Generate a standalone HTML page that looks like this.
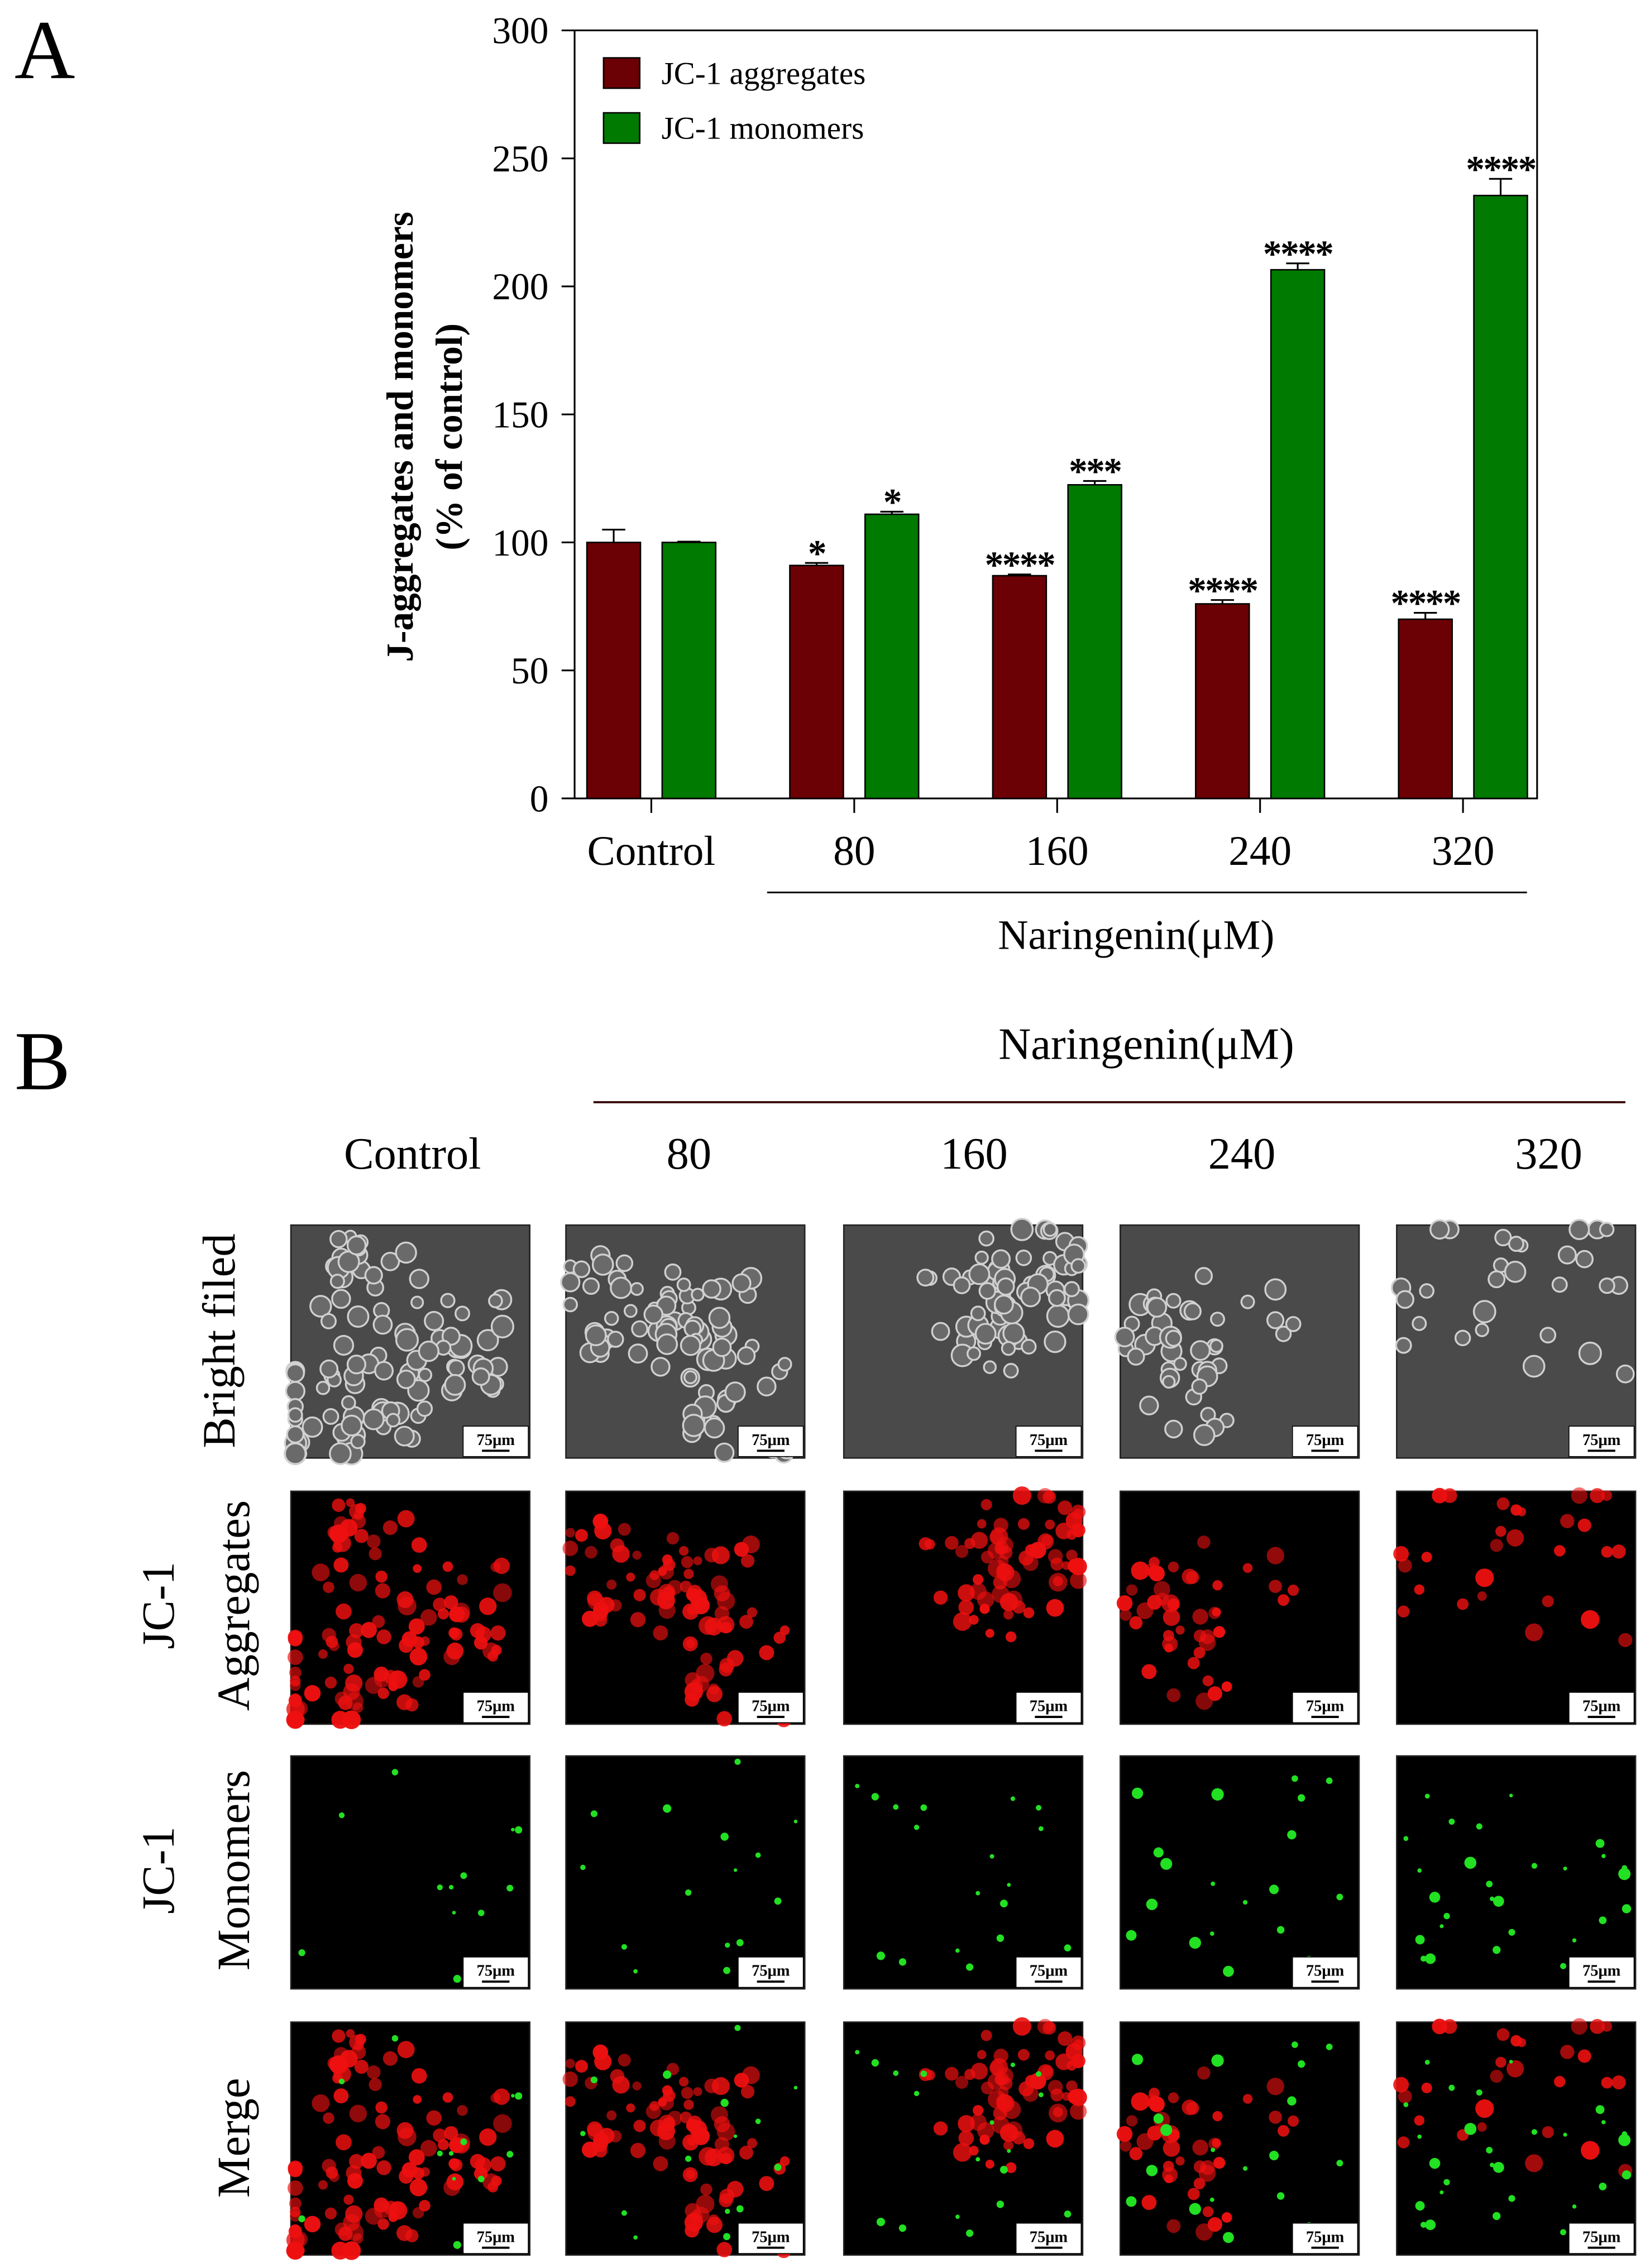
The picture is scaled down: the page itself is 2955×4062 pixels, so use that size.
<!DOCTYPE html>
<html><head><meta charset="utf-8"><style>
html,body{margin:0;padding:0;background:#fff;}
svg{display:block;}
text{font-family:"Liberation Serif","DejaVu Serif",serif;}
</style></head><body>
<svg id="root" width="2955" height="4062" viewBox="0 0 1140 1568" preserveAspectRatio="none" xmlns="http://www.w3.org/2000/svg">
<text x="10" y="54" font-size="58">A</text>
<g id="chart"></g>
<text x="10" y="753" font-size="58">B</text>
<g id="micro"></g>
</svg>
<script>
const categories=["Control","80","160","240","320"];
const aggValues=[100,91,87,76,70];
const aggErrors=[5,1,0.5,1.5,2.5];
const monValues=[100,111,122.5,206.5,235.5];
const monErrors=[0.3,1,1.5,2.5,6.5];
const aggStars=["","*","****","****","****"];
const monStars=["","*","***","****","****"];
const yTicks=[0,50,100,150,200,250,300];

const NS="http://www.w3.org/2000/svg";
function mk(tag,attrs,parent,txt){const e=document.createElementNS(NS,tag);for(const k in attrs)e.setAttribute(k,attrs[k]);if(txt!==undefined)e.textContent=txt;parent.appendChild(e);return e;}
const chart=document.getElementById('chart');
const L=397,R=1062,T=21,B=552;
const y=v=>B-(v/300)*(B-T);
const xc=i=>450+i*140.2;
const bw=37;
let e;
e=mk('rect',{x:L,y:T,width:R-L,height:B-T,fill:'none',stroke:'#000','stroke-width':1.2},chart);

yTicks.forEach(t=>{
 e=mk('line',{x1:L-9,x2:L,y1:y(t),y2:y(t),stroke:'#000','stroke-width':1.2},chart);
 
 e=mk('text',{x:379,y:y(t)+9,'font-size':26,'text-anchor':'end'},chart,String(t));
 
});
categories.forEach((c,i)=>{
 e=mk('line',{x1:xc(i),x2:xc(i),y1:B,y2:B+10,stroke:'#000','stroke-width':1.2},chart);
 
 e=mk('text',{x:xc(i),y:598,'font-size':29,'text-anchor':'middle'},chart,c);
 
 const series=[[aggValues,aggErrors,aggStars,'#6b0005',-26,'bar-aggregates'],[monValues,monErrors,monStars,'#007a00',26,'bar-monomers']];
 series.forEach(([vals,errs,stars,col,off,nm])=>{
  const cx=xc(i)+off, v=vals[i];
  e=mk('line',{x1:cx,x2:cx,y1:y(v),y2:y(v+errs[i]),stroke:'#000','stroke-width':1.2},chart);
  
  e=mk('line',{x1:cx-8,x2:cx+8,y1:y(v+errs[i]),y2:y(v+errs[i]),stroke:'#000','stroke-width':1.2},chart);
  
  e=mk('rect',{x:cx-bw/2,y:y(v),width:bw,height:B-y(v),fill:col,stroke:'#000','stroke-width':1},chart);
  
  if(stars[i]){e=mk('text',{x:cx,y:y(v+errs[i])+2,'font-size':26,'font-weight':'bold','text-anchor':'middle','font-family':'Liberation Sans, sans-serif','letter-spacing':'-1'},chart,stars[i]);
  }
 });
});
e=mk('rect',{x:417,y:40,width:25,height:21,fill:'#6b0005',stroke:'#000'},chart);

e=mk('text',{x:457,y:58,'font-size':22},chart,'JC-1 aggregates');

e=mk('rect',{x:417,y:78,width:25,height:21,fill:'#007a00',stroke:'#000'},chart);

e=mk('text',{x:457,y:96,'font-size':22},chart,'JC-1 monomers');

e=mk('text',{transform:'translate(285,302) rotate(-90)','font-size':26,'font-weight':'bold','text-anchor':'middle'},chart,'J-aggregates and  monomers');

e=mk('text',{transform:'translate(319,302) rotate(-90)','font-size':26,'font-weight':'bold','text-anchor':'middle'},chart,'(% of control)');

e=mk('line',{x1:530,x2:1055,y1:617,y2:617,stroke:'#000','stroke-width':1.2},chart);

e=mk('text',{x:785,y:656,'font-size':29,'text-anchor':'middle'},chart,'Naringenin(μM)');


// Panel B
const mg=document.getElementById('micro');
e=mk('text',{x:792,y:732,'font-size':31,'text-anchor':'middle'},mg,'Naringenin(μM)');

e=mk('line',{x1:410,x2:1123,y1:762,y2:762,stroke:'#3a0a0a','stroke-width':1.5},mg);

const colLbl=[["Control",285],["80",476],["160",673],["240",858],["320",1070]];
colLbl.forEach(([t,x])=>{e=mk('text',{x:x,y:808,'font-size':31,'text-anchor':'middle'},mg,t);
 });
const rowLbl=[[["Bright filed"],[152],927],[["JC-1","Aggregates"],[110,162],1110],[["JC-1","Monomers"],[110,162],1293],[["Merge"],[162],1478]];
rowLbl.forEach(([ts,xs,cy])=>ts.forEach((t,k)=>{e=mk('text',{transform:`translate(${xs[k]+10},${cy}) rotate(-90)`,'font-size':32,'text-anchor':'middle'},mg,t);
 }));
const colX=[201,391,583,774,965], rowY=[847,1031,1214,1398], W=165,H=161;
let seed=7;const rnd=()=>{seed=(seed*16807)%2147483647;return seed/2147483647;};
const redN=[110,85,70,45,28], greenN=[12,16,18,20,28];
colX.forEach((x0,c)=>{
 const reds=[];
 const nClus=4;const cl=[];for(let k=0;k<nClus;k++)cl.push([x0+15+rnd()*(W-30),15+rnd()*(H-30)]);
 for(let k=0;k<redN[c];k++){const cc=cl[Math.floor(rnd()*nClus)];reds.push([Math.max(x0+3,Math.min(x0+W-3,cc[0]+(rnd()-0.5)*70)),Math.max(3,Math.min(H-3,cc[1]+(rnd()-0.5)*70)),3+rnd()*3.5,0.55+rnd()*0.45]);}
 const greens=[];for(let k=0;k<greenN[c];k++)greens.push([x0+4+rnd()*(W-8),4+rnd()*(H-8),1.2+rnd()*(c>2?3.2:1.8)]);
 rowY.forEach((y0,r)=>{
  const g=mk('g',{},mg);
  mk('rect',{x:x0,y:y0,width:W,height:H,fill:r===0?'#4a4a4a':'#000',stroke:'#222','stroke-width':1},g);
  if(r===0){reds.forEach(([cx,cy,rr])=>mk('circle',{cx:cx,cy:y0+cy,r:rr+1,fill:'#6a6a6a',stroke:'#d0d0d0','stroke-width':1.3},g));}
  if(r===1||r===3){reds.forEach(([cx,cy,rr,o])=>mk('circle',{cx:cx,cy:y0+cy,r:rr,fill:'#ee1010','fill-opacity':o},g));}
  if(r===2||r===3){greens.forEach(([cx,cy,rr])=>mk('circle',{cx:cx,cy:y0+cy,r:rr,fill:'#22e022'},g));}
  const sb=mk('g',{},g);
  mk('rect',{x:x0+W-46,y:y0+H-22,width:45,height:21,fill:'#fff',stroke:'#000','stroke-width':0.6},sb);
  mk('text',{x:x0+W-23.5,y:y0+H-9,'font-size':11,'font-weight':'bold','text-anchor':'middle'},sb,'75μm');
  mk('line',{x1:x0+W-33,x2:x0+W-14,y1:y0+H-5,y2:y0+H-5,stroke:'#000','stroke-width':1.5},sb);
 });
});
</script>
</body></html>
